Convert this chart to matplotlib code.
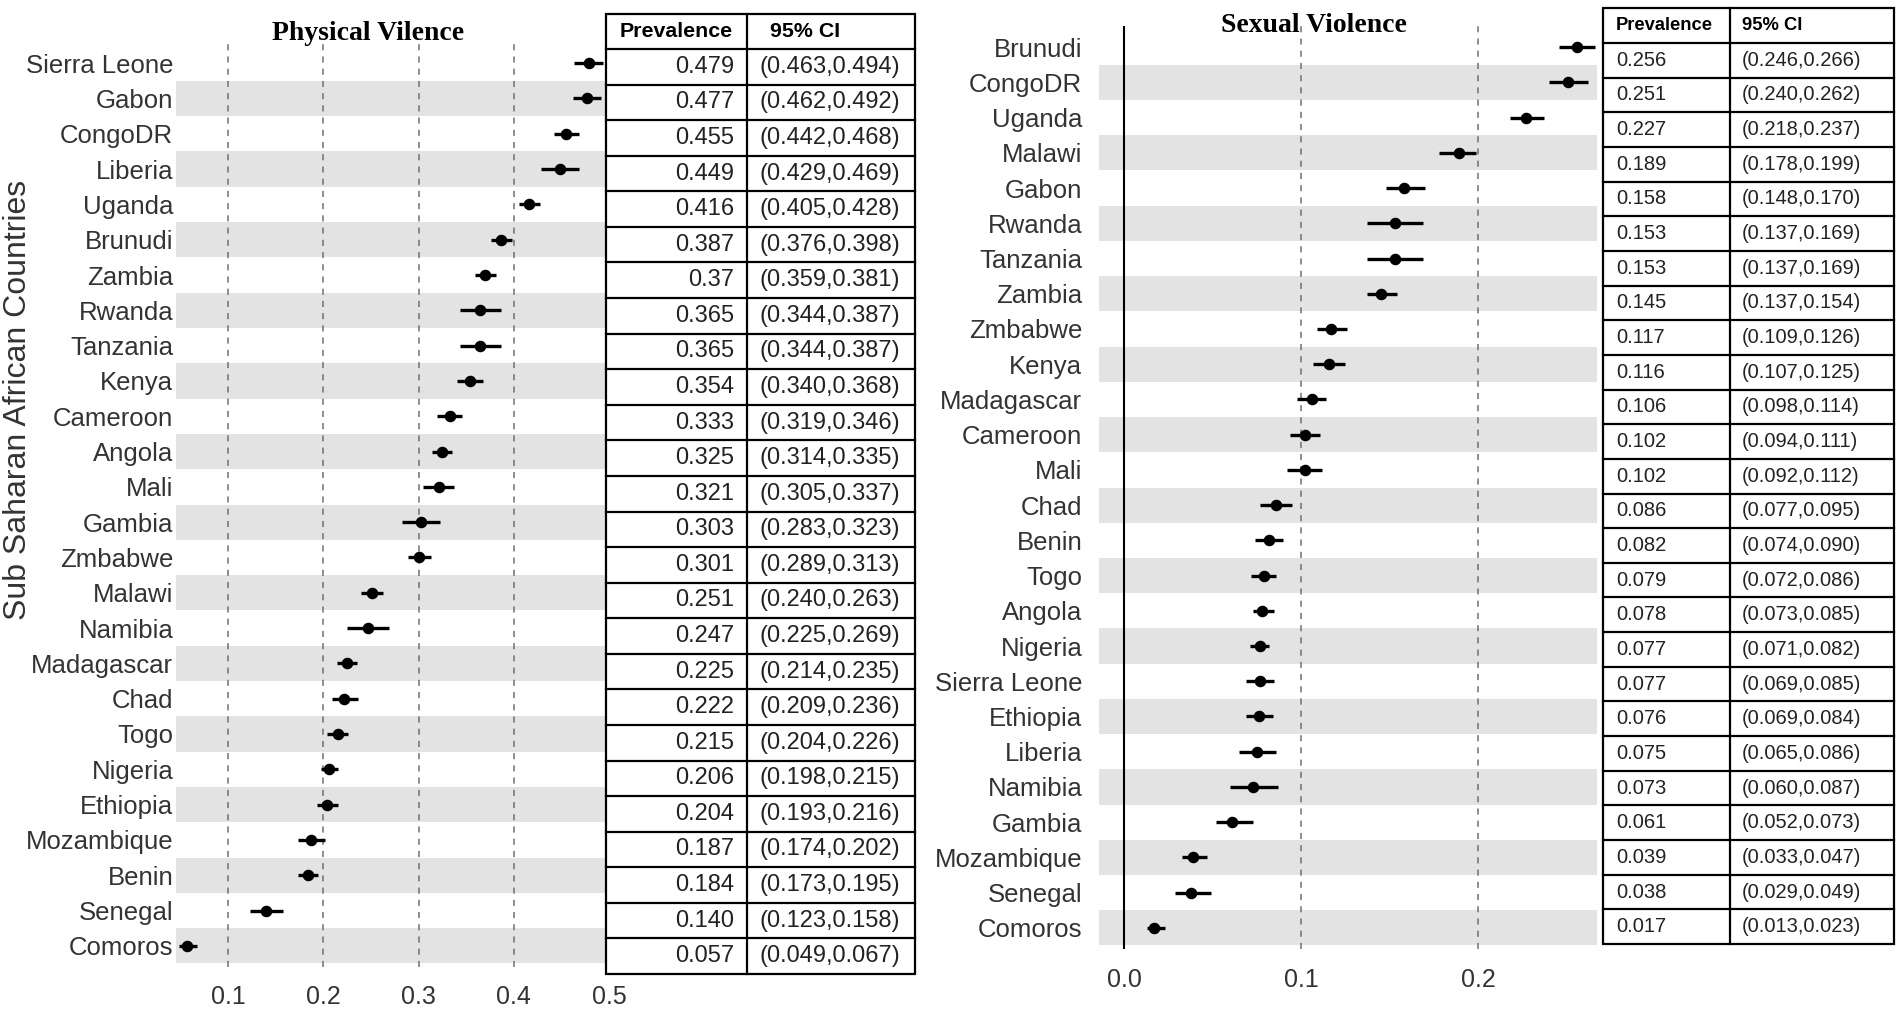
import numpy as np
import matplotlib
matplotlib.use("Agg")
import matplotlib.pyplot as plt

plt.rcParams['font.family'] = ['Liberation Sans', 'DejaVu Sans']

# ---------------- data ----------------
phys_countries = ["Sierra Leone", "Gabon", "CongoDR", "Liberia", "Uganda", "Brunudi", "Zambia",
                  "Rwanda", "Tanzania", "Kenya", "Cameroon", "Angola", "Mali", "Gambia", "Zmbabwe",
                  "Malawi", "Namibia", "Madagascar", "Chad", "Togo", "Nigeria", "Ethiopia",
                  "Mozambique", "Benin", "Senegal", "Comoros"]
phys_est = [0.479, 0.477, 0.455, 0.449, 0.416, 0.387, 0.370, 0.365, 0.365, 0.354, 0.333, 0.325,
            0.321, 0.303, 0.301, 0.251, 0.247, 0.225, 0.222, 0.215, 0.206, 0.204, 0.187, 0.184,
            0.140, 0.057]
phys_lo = [0.463, 0.462, 0.442, 0.429, 0.405, 0.376, 0.359, 0.344, 0.344, 0.340, 0.319, 0.314,
           0.305, 0.283, 0.289, 0.240, 0.225, 0.214, 0.209, 0.204, 0.198, 0.193, 0.174, 0.173,
           0.123, 0.049]
phys_hi = [0.494, 0.492, 0.468, 0.469, 0.428, 0.398, 0.381, 0.387, 0.387, 0.368, 0.346, 0.335,
           0.337, 0.323, 0.313, 0.263, 0.269, 0.235, 0.236, 0.226, 0.215, 0.216, 0.202, 0.195,
           0.158, 0.067]
phys_prev_text = ["0.479", "0.477", "0.455", "0.449", "0.416", "0.387", "0.37", "0.365", "0.365",
                  "0.354", "0.333", "0.325", "0.321", "0.303", "0.301", "0.251", "0.247", "0.225",
                  "0.222", "0.215", "0.206", "0.204", "0.187", "0.184", "0.140", "0.057"]

sex_countries = ["Brunudi", "CongoDR", "Uganda", "Malawi", "Gabon", "Rwanda", "Tanzania", "Zambia",
                 "Zmbabwe", "Kenya", "Madagascar", "Cameroon", "Mali", "Chad", "Benin", "Togo",
                 "Angola", "Nigeria", "Sierra Leone", "Ethiopia", "Liberia", "Namibia", "Gambia",
                 "Mozambique", "Senegal", "Comoros"]
sex_est = [0.256, 0.251, 0.227, 0.189, 0.158, 0.153, 0.153, 0.145, 0.117, 0.116, 0.106, 0.102,
           0.102, 0.086, 0.082, 0.079, 0.078, 0.077, 0.077, 0.076, 0.075, 0.073, 0.061, 0.039,
           0.038, 0.017]
sex_lo = [0.246, 0.240, 0.218, 0.178, 0.148, 0.137, 0.137, 0.137, 0.109, 0.107, 0.098, 0.094,
          0.092, 0.077, 0.074, 0.072, 0.073, 0.071, 0.069, 0.069, 0.065, 0.060, 0.052, 0.033,
          0.029, 0.013]
sex_hi = [0.266, 0.262, 0.237, 0.199, 0.170, 0.169, 0.169, 0.154, 0.126, 0.125, 0.114, 0.111,
          0.112, 0.095, 0.090, 0.086, 0.085, 0.082, 0.085, 0.084, 0.086, 0.087, 0.073, 0.047,
          0.049, 0.023]
sex_prev_text = ["%.3f" % v for v in sex_est]

phys_ticks = [0.1, 0.2, 0.3, 0.4, 0.5]
phys_ticklabels = ["0.1", "0.2", "0.3", "0.4", "0.5"]
sex_ticks = [0.0, 0.1, 0.2]
sex_ticklabels = ["0.0", "0.1", "0.2"]

# ---------------- figure ----------------
W, H = 1902, 1011
fig = plt.figure(figsize=(W / 100, H / 100), dpi=100)
fig.patch.set_facecolor('white')


def px_rect(x0, y0, x1, y1):
    return [x0 / W, 1 - y1 / H, (x1 - x0) / W, (y1 - y0) / H]


BAND = '#e3e3e3'
TXT = '#333333'


def forest(ax, countries, est, lo, hi, xlim, ticks, ticklabels, dashed, label_pad, tick_pad):
    n = len(countries)
    y = np.arange(n)
    est = np.asarray(est); lo = np.asarray(lo); hi = np.asarray(hi)
    for i in range(n):
        if i % 2 == 1:
            ax.axhspan(i - 0.5, i + 0.5, color=BAND, lw=0, zorder=0)
    for d in dashed:
        ax.axvline(d, color='#707070', lw=1.1, ls=(0, (4, 4)), zorder=1)
    ax.errorbar(est, y, xerr=[est - lo, hi - est], fmt='o', color='black', ms=7.3,
                elinewidth=2.4, capsize=0, zorder=3)
    ax.set_xlim(*xlim)
    ax.set_ylim(n - 1 + 0.6, -0.6)
    ax.set_yticks(y)
    ax.set_yticklabels(countries, fontsize=18.5, color=TXT)
    ax.set_xticks(ticks)
    ax.set_xticklabels(ticklabels, fontsize=18, color=TXT)
    ax.tick_params(axis='y', length=0, pad=label_pad)
    ax.tick_params(axis='x', length=0, pad=tick_pad)
    for s in ax.spines.values():
        s.set_visible(False)
    ax.set_facecolor('none')


# left panel
axL = fig.add_axes(px_rect(176, 42, 609, 967))
forest(axL, phys_countries, phys_est, phys_lo, phys_hi, (0.0454, 0.5), phys_ticks,
       phys_ticklabels, [0.1, 0.2, 0.3, 0.4], 2, 13)

# right panel
axR = fig.add_axes(px_rect(1099, 26, 1597, 949))
forest(axR, sex_countries, sex_est, sex_lo, sex_hi, (-0.01412, 0.2672), sex_ticks,
       sex_ticklabels, [0.1, 0.2], 12, 14)
axR.axvline(0.0, color='black', lw=1.5, zorder=2)

# titles and y label
fig.text(368 / W, 1 - 33 / H, "Physical Vilence", ha='center', va='center',
         family=['Liberation Serif', 'DejaVu Serif'], weight='bold', fontsize=20)
fig.text(1314 / W, 1 - 25 / H, "Sexual Violence", ha='center', va='center',
         family=['Liberation Serif', 'DejaVu Serif'], weight='bold', fontsize=20)
fig.text(18 / W, 1 - 400 / H, "Sub Saharan African Countries", rotation=90, ha='center',
         va='center', fontsize=23, color=TXT)

# ---------------- tables (overlay in pixel coordinates) ----------------
ov = fig.add_axes([0, 0, 1, 1], zorder=10)
ov.set_xlim(0, W)
ov.set_ylim(H, 0)
ov.axis('off')
ov.patch.set_alpha(0)


def draw_table(x0, x1, x2, top, hb, bottom, prev_text, lo, hi, fs, hfs, prev_x, prev_ha,
               ci_x, ci_ha, hdr_prev_x, hdr_prev_ha, hdr_ci_x):
    n = len(prev_text)
    rh = (bottom - hb) / n
    ov.add_patch(plt.Rectangle((x0, top), x2 - x0, bottom - top, facecolor='white',
                               edgecolor='black', lw=1.6, zorder=1))
    ov.plot([x1, x1], [top, bottom], color='black', lw=1.6, zorder=2)
    ov.plot([x0, x2], [hb, hb], color='black', lw=1.6, zorder=2)
    for i in range(1, n):
        yy = hb + i * rh
        ov.plot([x0, x2], [yy, yy], color='black', lw=1.6, zorder=2)
    hc = (top + hb) / 2
    ov.text(hdr_prev_x, hc, "Prevalence", ha=hdr_prev_ha, va='center', fontsize=hfs,
            weight='bold', zorder=3)
    ov.text(hdr_ci_x, hc, "95% CI", ha='left', va='center', fontsize=hfs, weight='bold',
            zorder=3)
    for i in range(n):
        yc = hb + (i + 0.5) * rh
        ov.text(prev_x, yc, prev_text[i], ha=prev_ha, va='center', fontsize=fs, color='#222222',
                zorder=3)
        ov.text(ci_x, yc, "(%.3f,%.3f)" % (lo[i], hi[i]), ha=ci_ha, va='center', fontsize=fs,
                color='#222222', zorder=3)


draw_table(606, 747, 915, 14, 49, 974, phys_prev_text, phys_lo, phys_hi, 17, 15.4,
           734, 'right', 830, 'center', 676, 'center', 770)
draw_table(1603, 1730, 1894, 8, 43, 944, sex_prev_text, sex_lo, sex_hi, 14.5, 13.2,
           1616, 'left', 1742, 'left', 1616, 'left', 1742)

fig.savefig("out.png", dpi=100, facecolor='white')
